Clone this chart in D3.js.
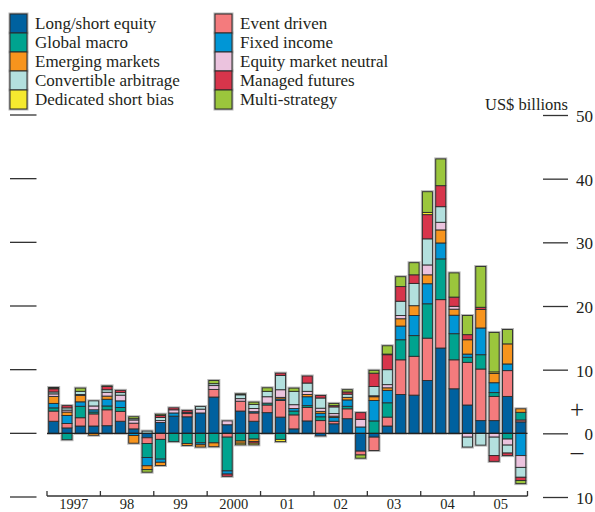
<!DOCTYPE html>
<html><head><meta charset="utf-8">
<script src="https://cdn.jsdelivr.net/npm/d3@7"></script>
<style>
body{margin:0;background:#fff}
svg{display:block}
text{font-family:"Liberation Serif","Times New Roman",serif;fill:#231f20}
</style>
</head><body>
<svg id="c" width="595" height="512"></svg>
<script>
// ---------- data ----------
const yearLabels = ["1997","98","99","2000","01","02","03","04","05"];
const quarterNames = ["Q1","Q2","Q3","Q4"];
const quarters = yearLabels.flatMap(y => quarterNames.map(q => y + " " + q));

const strategyNames = ["Long/short equity","Event driven","Global macro","Fixed income","Emerging markets",
  "Equity market neutral","Convertible arbitrage","Managed futures","Dedicated short bias","Multi-strategy"];
const strategyColors = ["#00619f","#f47b7d","#00a38f","#0096d6","#f7941d",
  "#ebc3de","#b3e0de","#d7354b","#f5e92f","#9bc63c"];

const longShortEquity = [1.9,0.85,1.15,1.15, 1.2,1.9,0.7,-0.7, 1.7,2.7,2.6,3.2, 5.7,1.35,3.5,1.9, 3.25,2.55,0.7,1.95, -0.4,1.5,2.3,-2.8, -0.6,1.15,6.1,6.0, 8.3,13.4,7.0,4.45, 2.0,2.0,5.8,1.8];
const eventDriven      = [1.6,0.7,1.3,1.9, 2.5,1.55,0.9,-0.9, -0.95,0,0.5,0, 1.2,-0.6,1.55,1.3, 1.2,2.6,2.2,2.1, 2.0,0.4,1.55,-0.6, -2.1,1.4,5.45,6.1, 6.65,7.6,4.55,6.7, 8.1,3.8,4.05,0.3];
const globalMacro      = [0.5,-1.0,1.8,0.3, 0.6,0.6,0,-2.2, -3.1,-1.3,-1.6,-1.5, -1.5,-5.3,-1.2,-0.9, 0.3,-0.95,0.6,0.3, 0.6,0,0.4,0, 1.95,2.25,3.15,3.25, 5.4,6.4,4.1,0.8, 2.25,0.6,-0.9,1.2];
const fixedIncome      = [0.7,1.25,0.7,0.35, 1.05,1.05,-0.35,-1.3, -0.5,0.5,0.2,-0.3, 0,-0.5,0,0.2, 0,0.25,0.4,1.4, 0.55,0.6,1.0,1.0, 3.2,1.95,2.15,3.15, 3.15,2.5,2.9,0.5, 4.2,1.55,1.05,-3.5];
const emergingMarkets  = [1.1,0.55,1.0,-0.3, 0.5,0,-1.2,-0.6, -0.5,0,-0.3,-0.35, -0.6,0,-0.35,-0.4, 0,0.25,0,0.35, 0.3,0.2,0.4,0, 0.6,0.4,1.15,1.55, 1.4,2.05,0.95,2.25, 2.9,1.45,3.15,0.55];
const equityMktNeutral = [0.4,0.3,0.15,0.6, 0.6,0.9,0.5,0, 0.3,0.5,0,0.6, 0.6,0.6,0.4,0.5, 1.0,1.2,0.6,0.5, 0.5,0.4,0,1.2, 0.15,0.5,0.5,0, 1.55,1.2,0.45,-0.6, 0,-0.6,-0.95,-1.85];
const convertibleArb   = [0.3,0.35,0.5,0.8, 0.4,0.4,0.2,0.35, 0.5,0,0,0.4, 0.3,0,0.6,0.65, 0.85,2.25,2.1,1.3, 1.6,1.05,0.5,0, 1.45,2.35,2.25,3.5, 4.1,2.45,0,-1.55, -1.85,-2.9,-1.25,-1.55];
const managedFutures   = [0.5,0.35,0,0, 0.5,0.35,0,0, 0.3,0.3,0.3,0, 0,-0.35,0,-0.25, 0,0.35,0,1.1, 0.4,0.2,0.35,1.05, 2.1,2.35,2.3,1.35, 3.8,3.3,1.45,0.8, 0.35,-0.9,-0.4,-0.5];
const dedicatedShort   = [0.1,0,0,0, 0,0,0,0, 0,0,0,0, 0,0,-0.25,-0.25, 0,-0.35,0,0, 0,0,0,0, 0,0.1,0,0, 0.35,0,0,0, 0,0.25,0,0];
const multiStrategy    = [0.1,0,0.5,0, 0.1,0,0.3,-0.4, 0.2,0,0,0, 0.5,0,0.15,0.35, 0.55,0,0.5,0, 0,0.35,0.35,-0.5, 0.45,1.3,1.55,1.9, 3.25,4.2,3.8,3.0, 6.4,6.2,2.25,-0.5];

const seriesValues = [longShortEquity,eventDriven,globalMacro,fixedIncome,emergingMarkets,
  equityMktNeutral,convertibleArb,managedFutures,dedicatedShort,multiStrategy];

const yTicks = [50,40,30,20,10,0,-10];
const legendCol1 = ["Long/short equity","Global macro","Emerging markets","Convertible arbitrage","Dedicated short bias"];
const legendCol2 = ["Event driven","Fixed income","Equity market neutral","Managed futures","Multi-strategy"];
const unitLabel = "US$ billions";

// ---------- chart ----------
const svg = d3.select("#c");
const x = d3.scaleBand().domain(quarters).range([47, 527.5]).paddingInner(0.25).paddingOuter(0.125);
const y = d3.scaleLinear().domain([-10, 50]).range([497, 115]);
const color = d3.scaleOrdinal().domain(strategyNames).range(strategyColors);

const rows = quarters.map((q, i) => {
  const r = {q};
  strategyNames.forEach((s, k) => r[s] = seriesValues[k][i]);
  return r;
});
const stacked = d3.stack().keys(strategyNames).offset(d3.stackOffsetDiverging)(rows);

// halo behind each bar
const extents = quarters.map((q, i) => {
  let lo = 0, hi = 0;
  stacked.forEach(layer => { const d = layer[i]; lo = Math.min(lo, d[0], d[1]); hi = Math.max(hi, d[0], d[1]); });
  return {q, lo, hi};
});
svg.append("g").selectAll("rect").data(extents).join("rect")
  .attr("x", d => x(d.q)).attr("width", x.bandwidth())
  .attr("y", d => y(d.hi)).attr("height", d => y(d.lo) - y(d.hi))
  .attr("fill", "none").attr("stroke", "#b5b5b5").attr("stroke-width", 3);

svg.append("g").selectAll("g").data(stacked).join("g")
  .attr("fill", d => color(d.key))
  .selectAll("rect").data(d => d.filter(v => v[1] !== v[0])).join("rect")
  .attr("x", d => x(d.data.q)).attr("width", x.bandwidth())
  .attr("y", d => y(Math.max(d[0], d[1])))
  .attr("height", d => Math.abs(y(d[0]) - y(d[1])))
  .attr("stroke", "#2b2b2b").attr("stroke-width", 0.9);

// zero line
svg.append("line").attr("x1", 47).attr("x2", 527.5).attr("y1", y(0)).attr("y2", y(0))
  .attr("stroke", "#222").attr("stroke-width", 1.3);

// left tick marks
svg.append("g").selectAll("line").data(yTicks).join("line")
  .attr("x1", 10).attr("x2", 36.5).attr("y1", d => y(d)).attr("y2", d => y(d))
  .attr("stroke", "#333").attr("stroke-width", 1.3);

// right axis
const rightAxis = d3.axisRight(y).tickValues(yTicks).tickSize(25).tickPadding(0)
  .tickFormat(d => String(Math.abs(d)));
const ra = svg.append("g").attr("transform", "translate(543,0)").call(rightAxis);
ra.select(".domain").remove();
ra.selectAll(".tick line").attr("stroke", "#333").attr("stroke-width", 1.3);
ra.selectAll(".tick text").attr("x", 50).attr("text-anchor", "end")
  .attr("font-size", 17).attr("dy", "0.38em")
  .style("font-family", '"Liberation Serif","Times New Roman",serif').attr("fill", "#231f20");
svg.append("text").attr("x", 577).attr("y", 409).attr("text-anchor", "middle").attr("dy", "0.35em")
  .attr("font-size", 25).text("+");
svg.append("text").attr("x", 577).attr("y", 451).attr("text-anchor", "middle").attr("dy", "0.35em")
  .attr("font-size", 25).text("–");
svg.append("text").attr("x", 568).attr("y", 110).attr("text-anchor", "end")
  .attr("font-size", 16.5).text(unitLabel);

// x axis
const xYear = d3.scaleBand().domain(yearLabels).range([47, 527.5]);
const xa = svg.append("g").attr("transform", `translate(0,${y(-10) - 1})`)
  .call(d3.axisBottom(xYear).tickSize(0).tickPadding(0));
xa.select(".domain").attr("stroke", "#333").attr("stroke-width", 1.3).attr("d", "M47,0H527.5");
xa.selectAll(".tick text").attr("y", 12.5).attr("dy", 0).attr("font-size", 14.5)
  .style("font-family", '"Liberation Serif","Times New Roman",serif').attr("fill", "#231f20");
const boundaries = yearLabels.map(yl => xYear(yl)).concat([527.5]);
xa.append("g").selectAll("line").data(boundaries).join("line")
  .attr("x1", d => d).attr("x2", d => d).attr("y1", -5).attr("y2", 0)
  .attr("stroke", "#333").attr("stroke-width", 1.3);

// legend
function legendColumn(names, x0) {
  const g = svg.append("g");
  g.selectAll("rect.h").data(names).join("rect")
    .attr("x", x0).attr("y", (d, i) => 14 + i * 19).attr("width", 17).attr("height", 19)
    .attr("fill", "none").attr("stroke", "#b5b5b5").attr("stroke-width", 3);
  g.selectAll("rect.s").data(names).join("rect")
    .attr("x", x0).attr("y", (d, i) => 14 + i * 19).attr("width", 17).attr("height", 19)
    .attr("fill", d => color(d)).attr("stroke", "#2b2b2b").attr("stroke-width", 1);
  g.selectAll("text").data(names).join("text")
    .attr("x", x0 + 25).attr("y", (d, i) => 14 + i * 19 + 9.5).attr("dy", "0.33em")
    .attr("font-size", 17).text(d => d);
}
legendColumn(legendCol1, 10);
legendColumn(legendCol2, 215);
</script>
</body></html>
